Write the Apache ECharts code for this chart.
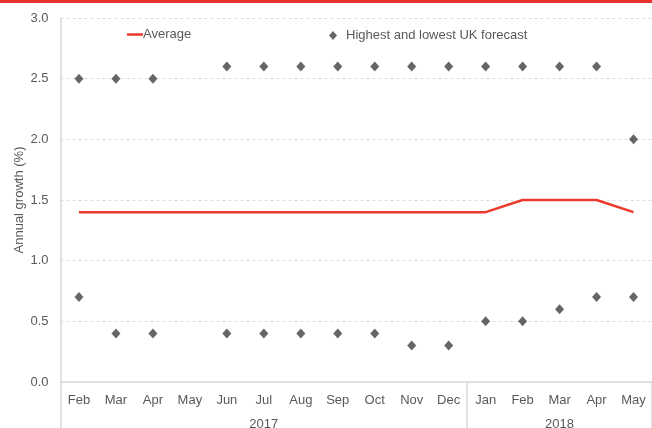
<!DOCTYPE html>
<html><head><meta charset="utf-8">
<script src="https://cdn.jsdelivr.net/npm/echarts@6/dist/echarts.min.js"></script>
<style>html,body{margin:0;padding:0;background:#fff}#c{width:652px;height:428px}</style>
</head><body><div id="c"></div>
<script>
var months = ['Feb','Mar','Apr','May','Jun','Jul','Aug','Sep','Oct','Nov','Dec','Jan','Feb','Mar','Apr','May'];
var years = ['2017','2018'];
var yearSpans = [11, 5];
var average = [1.4,1.4,1.4,1.4,1.4,1.4,1.4,1.4,1.4,1.4,1.4,1.4,1.5,1.5,1.5,1.4];
var highest = [2.5,2.5,2.5,null,2.6,2.6,2.6,2.6,2.6,2.6,2.6,2.6,2.6,2.6,2.6,2.0];
var lowest  = [0.7,0.4,0.4,null,0.4,0.4,0.4,0.4,0.4,0.3,0.3,0.5,0.5,0.6,0.7,0.7];

var bounds = [0], centers = [], acc = 0;
yearSpans.forEach(function(s){ centers.push(acc + s/2); acc += s; bounds.push(acc); });

var txt = '#595959', font = 'Liberation Sans, Arial, sans-serif';
var chart = echarts.init(document.getElementById('c'));
chart.setOption({
  animation: false,
  textStyle: {fontFamily: font},
  graphic: [{type:'rect', left:0, top:0, shape:{width:652, height:3}, style:{fill:'#e8312a'}}],
  legend: [
    {data:[{name:'Average', icon:'rect'}], left:122, top:23, itemWidth:16, itemHeight:2.5, itemGap:4,
     textStyle:{color:txt, fontSize:13, fontFamily:font, padding:[0,0,0,-5]}},
    {data:[{name:'Highest and lowest UK forecast', icon:'diamond'}], left:324, top:24, itemWidth:8, itemHeight:9,
     textStyle:{color:txt, fontSize:13, fontFamily:font, padding:[0,0,0,4]}}
  ],
  grid: {left:60.5, right:0, top:18, bottom:46, containLabel:false, outerBoundsMode:'none'},
  xAxis: [
    {type:'category', data:months, position:'bottom', boundaryGap:true,
     axisLine:{show:true, lineStyle:{color:'#d9d9d9', width:1.5}},
     axisTick:{show:false},
     axisLabel:{color:txt, fontSize:13, fontFamily:font, margin:12, interval:0}},
    {type:'value', min:0, max:acc, position:'bottom',
     axisLine:{show:false}, splitLine:{show:false},
     axisTick:{show:true, customValues:bounds, length:48, lineStyle:{color:'#d9d9d9', width:1.5}},
     axisLabel:{customValues:centers, color:txt, fontSize:13, fontFamily:font, margin:36,
       formatter:function(v){ var i = centers.indexOf(v); return i>=0 ? years[i] : ''; }}}
  ],
  yAxis: {type:'value', min:0, max:3, interval:0.5,
    name:'Annual growth (%)', nameLocation:'middle', nameGap:35, nameRotate:90, nameMoveOverlap:false,
    nameTextStyle:{color:txt, fontSize:13, fontFamily:font},
    axisLine:{show:true, lineStyle:{color:'#d9d9d9', width:1.5}},
    axisTick:{show:false},
    axisLabel:{color:txt, fontSize:13, fontFamily:font, margin:12, formatter:function(v){return v.toFixed(1);}},
    splitLine:{show:true, lineStyle:{color:'#dcdcdc', type:[3,3]}}},
  series: [
    {name:'Average', type:'line', data:average, symbol:'none', xAxisIndex:0,
     lineStyle:{color:'#ee3a2c', width:2.5}, itemStyle:{color:'#ee3a2c'}},
    {name:'Highest and lowest UK forecast', type:'scatter', data:highest, symbol:'diamond', symbolSize:[9,10], xAxisIndex:0,
     itemStyle:{color:'#404040'}},
    {name:'Highest and lowest UK forecast', type:'scatter', data:lowest, symbol:'diamond', symbolSize:[9,10], xAxisIndex:0,
     itemStyle:{color:'#404040'}}
  ]
});
</script></body></html>
